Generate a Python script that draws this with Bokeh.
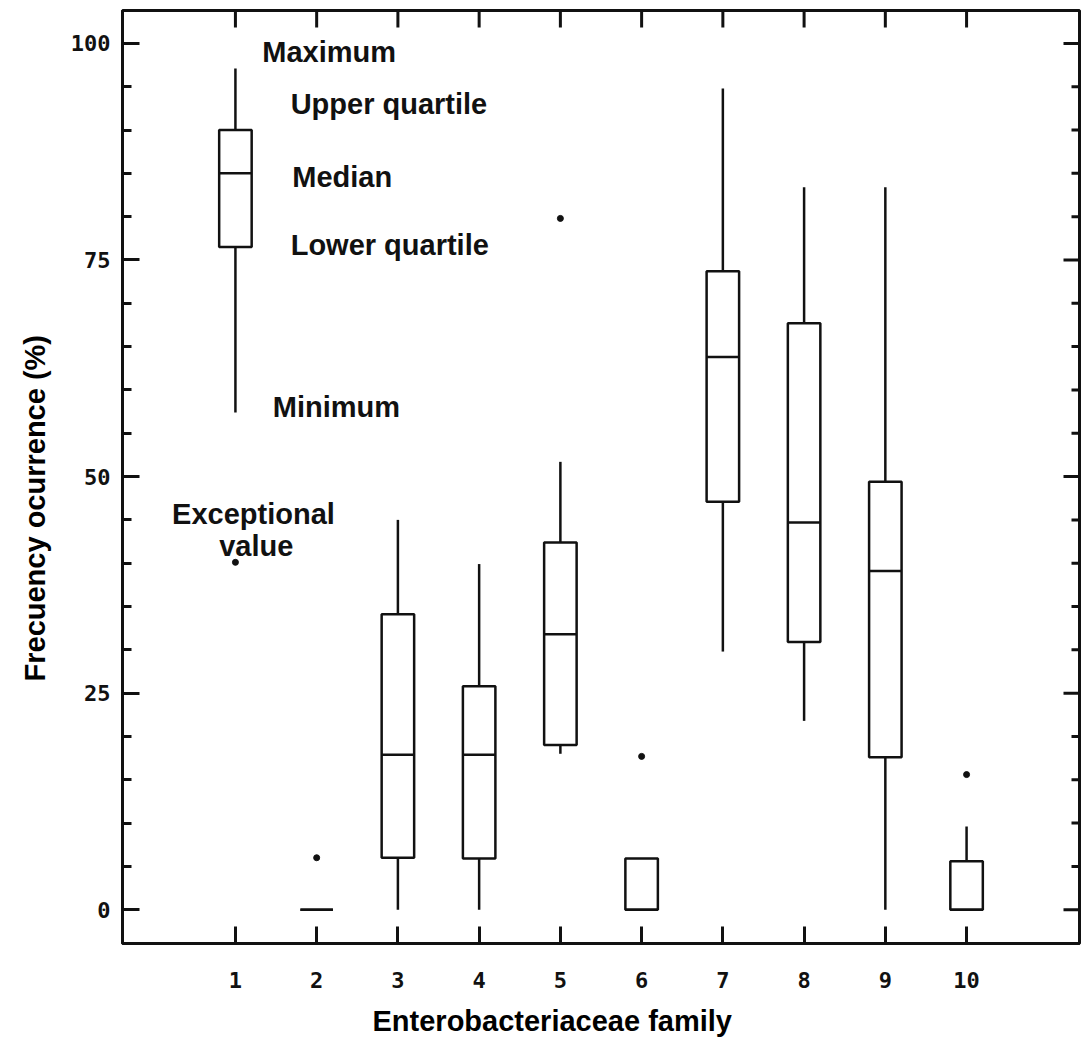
import numpy as np
from bokeh.plotting import figure
from bokeh.models import Range1d, LinearAxis, FixedTicker, Label, Title
from bokeh.embed import file_html
from bokeh.resources import INLINE

# ---------------- data ----------------
families = [1, 2, 3, 4, 5, 6, 7, 8, 9, 10]
family_labels = ["1", "2", "3", "4", "5", "6", "7", "8", "9", "10"]
whisker_low = [57.4, 0.0, 0.0, 0.0, 18.0, 0.0, 29.8, 21.8, 0.0, 0.0]
lower_quartile = [76.5, 0.0, 6.0, 5.9, 19.0, 0.0, 47.1, 30.9, 17.6, 0.0]
median = [85.0, 0.0, 17.9, 17.9, 31.8, 0.0, 63.8, 44.7, 39.1, 0.0]
upper_quartile = [90.0, 0.0, 34.1, 25.8, 42.4, 5.9, 73.7, 67.7, 49.4, 5.6]
whisker_high = [97.1, 0.0, 45.0, 39.9, 51.7, 5.9, 94.8, 83.4, 83.4, 9.6]

outlier_family = [1, 2, 5, 6, 10]
outlier_value = [40.1, 6.0, 79.8, 17.7, 15.6]

y_major_ticks = [0, 25, 50, 75, 100]
y_minor_ticks = [v for v in range(5, 100, 5) if v % 25 != 0]

# legend-style annotation texts for the example box (family 1)
note_text = ["Maximum", "Upper quartile", "Median", "Lower quartile",
             "Minimum", "Exceptional", "value"]
note_x = [1.33, 1.68, 1.70, 1.68, 1.46, 0.22, 0.80]
note_y = [99.0, 93.0, 84.6, 76.7, 58.0, 45.7, 42.0]

x_title = "Enterobacteriaceae family"
y_title = "Frecuency ocurrence (%)"

# ---------------- styling ----------------
INK = "#111111"
BOX_W = 0.4
BOLD = "Liberation Sans"
MONO = "DejaVu Sans Mono"

x_rng = Range1d(-0.39, 11.39)
y_rng = Range1d(-3.9, 103.8)

p = figure(width=1081, height=1048, output_backend="svg", toolbar_location=None,
           x_range=x_rng, y_range=y_rng,
           min_border_left=122, min_border_right=2, min_border_top=10,
           min_border_bottom=103, x_axis_location=None, y_axis_location=None)
p.background_fill_color = "white"
p.border_fill_color = "white"
p.outline_line_color = INK
p.outline_line_width = 3
p.xgrid.visible = False
p.ygrid.visible = False


def style_axis(ax):
    ax.axis_line_color = INK
    ax.axis_line_width = 3
    ax.major_tick_line_color = INK
    ax.major_tick_line_width = 3
    ax.minor_tick_line_color = INK
    ax.minor_tick_line_width = 3
    ax.major_tick_out = 0
    ax.minor_tick_out = 0
    ax.major_label_text_font = MONO
    ax.major_label_text_font_style = "bold"
    ax.major_label_text_color = INK
    ax.major_label_text_font_size = "22px"


left = LinearAxis(ticker=FixedTicker(ticks=y_major_ticks, minor_ticks=y_minor_ticks))
style_axis(left)
left.major_tick_in = 17
left.minor_tick_in = 9
left.major_label_standoff = 12
p.add_layout(left, "left")

bottom = LinearAxis(ticker=FixedTicker(ticks=families, minor_ticks=[]))
style_axis(bottom)
bottom.major_tick_in = 17
bottom.minor_tick_in = 0
bottom.major_label_overrides = {f: l for f, l in zip(families, family_labels)}
bottom.major_label_standoff = 28
p.add_layout(bottom, "below")

# axis titles (as titles so they can sit off-centre like the original)
p.add_layout(Title(text=x_title, text_font=BOLD, text_font_style="bold",
                   text_font_size="29px", text_color="black", align="left",
                   offset=250, standoff=24), "below")
p.add_layout(Title(text=y_title, text_font=BOLD, text_font_style="bold",
                   text_font_size="29px", text_color="black", align="left",
                   offset=262, standoff=33), "left")

# ticks on the top and right edges of the frame (inward)
p.ray(x=families, y=y_rng.end, length=17, length_units="screen",
      angle=-90, angle_units="deg", line_color=INK, line_width=3)
p.ray(x=x_rng.end, y=y_major_ticks, length=16, length_units="screen",
      angle=180, angle_units="deg", line_color=INK, line_width=3)
p.ray(x=x_rng.end, y=y_minor_ticks, length=8, length_units="screen",
      angle=180, angle_units="deg", line_color=INK, line_width=3)

# ---------------- box plots ----------------
fam = np.array(families, dtype=float)
p.segment(x0=fam, y0=whisker_low, x1=fam, y1=lower_quartile,
          line_color=INK, line_width=2.5)
p.segment(x0=fam, y0=upper_quartile, x1=fam, y1=whisker_high,
          line_color=INK, line_width=2.5)
p.vbar(x=fam, width=BOX_W, bottom=lower_quartile, top=upper_quartile,
       fill_color="white", line_color=INK, line_width=2.5)
p.segment(x0=fam - BOX_W / 2, y0=median, x1=fam + BOX_W / 2, y1=median,
          line_color=INK, line_width=2.5)
p.scatter(x=outlier_family, y=outlier_value, size=6, marker="circle",
          fill_color=INK, line_color=INK)

# ---------------- annotation texts ----------------
for t, x, y in zip(note_text, note_x, note_y):
    p.add_layout(Label(x=x, y=y, text=t, text_font=BOLD, text_font_style="bold",
                       text_font_size="29px", text_color=INK,
                       text_align="left", text_baseline="alphabetic"))

open("out.html", "w").write(file_html(p, INLINE))
